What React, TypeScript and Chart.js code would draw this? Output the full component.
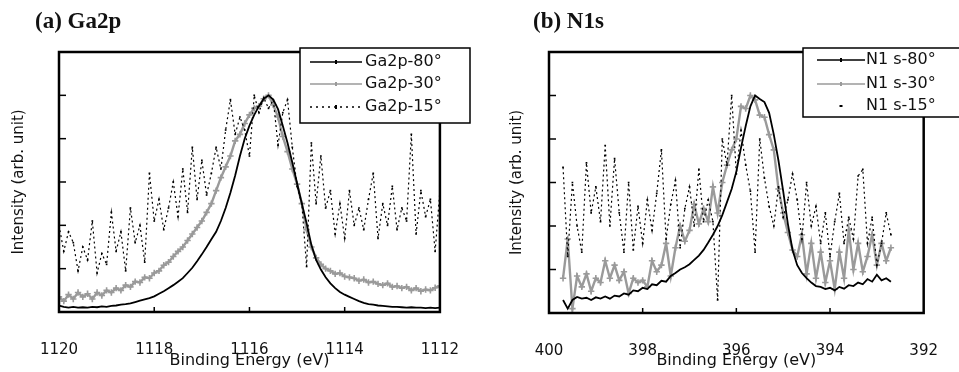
import React, { useEffect, useRef } from "react";
import { Chart, registerables } from "chart.js";

Chart.register(...registerables);

// ---------- Data: (a) Ga2p ----------
const gaEnergy = [
  1120.0, 1119.9, 1119.8, 1119.7, 1119.6, 1119.5, 1119.4, 1119.3, 1119.2, 1119.1,
  1119.0, 1118.9, 1118.8, 1118.7, 1118.6, 1118.5, 1118.4, 1118.3, 1118.2, 1118.1,
  1118.0, 1117.9, 1117.8, 1117.7, 1117.6, 1117.5, 1117.4, 1117.3, 1117.2, 1117.1,
  1117.0, 1116.9, 1116.8, 1116.7, 1116.6, 1116.5, 1116.4, 1116.3, 1116.2, 1116.1,
  1116.0, 1115.9, 1115.8, 1115.7, 1115.6, 1115.5, 1115.4, 1115.3, 1115.2, 1115.1,
  1115.0, 1114.9, 1114.8, 1114.7, 1114.6, 1114.5, 1114.4, 1114.3, 1114.2, 1114.1,
  1114.0, 1113.9, 1113.8, 1113.7, 1113.6, 1113.5, 1113.4, 1113.3, 1113.2, 1113.1,
  1113.0, 1112.9, 1112.8, 1112.7, 1112.6, 1112.5, 1112.4, 1112.3, 1112.2, 1112.1,
  1112.0,
];
const ga80 = [
  0.15, 0.12, 0.10, 0.12, 0.10, 0.11, 0.10, 0.12, 0.11, 0.13,
  0.12, 0.14, 0.15, 0.17, 0.18, 0.20, 0.23, 0.26, 0.29, 0.32,
  0.36, 0.42, 0.48, 0.55, 0.62, 0.70, 0.78, 0.90, 1.02, 1.17,
  1.33, 1.50, 1.68, 1.85, 2.10, 2.40, 2.75, 3.15, 3.60, 4.00,
  4.30, 4.55, 4.75, 4.92, 5.00, 4.90, 4.68, 4.30, 3.90, 3.45,
  2.97, 2.50, 2.05, 1.55, 1.20, 0.98, 0.80, 0.66, 0.55, 0.46,
  0.40, 0.35, 0.30, 0.25, 0.21, 0.18, 0.17, 0.15, 0.14, 0.13,
  0.12, 0.12, 0.11, 0.10, 0.11, 0.10, 0.10, 0.09, 0.10, 0.09,
  0.10,
];
const ga30 = [
  0.35, 0.25, 0.40, 0.30, 0.45, 0.35, 0.42, 0.30, 0.45, 0.38,
  0.50, 0.45, 0.55, 0.50, 0.62, 0.58, 0.70, 0.68, 0.80, 0.78,
  0.90, 0.95, 1.08, 1.15, 1.28, 1.40, 1.50, 1.65, 1.80, 1.95,
  2.10, 2.30, 2.50, 2.80, 3.10, 3.35, 3.60, 3.95, 4.10, 4.35,
  4.55, 4.70, 4.75, 4.92, 5.00, 4.78, 4.50, 4.05, 3.70, 3.30,
  2.95, 2.50, 1.90, 1.50, 1.25, 1.10, 1.00, 0.95, 0.88, 0.90,
  0.82, 0.80, 0.78, 0.72, 0.75, 0.68, 0.70, 0.65, 0.62, 0.66,
  0.58, 0.60, 0.55, 0.58, 0.50, 0.55, 0.48, 0.52, 0.50, 0.56,
  0.60,
];
const ga15 = [
  2.00, 1.40, 1.85, 1.60, 0.95, 1.50, 1.20, 2.10, 0.90, 1.35,
  1.10, 2.30, 1.40, 1.85, 0.95, 2.40, 1.60, 2.00, 1.15, 3.20,
  2.10, 2.60, 1.90, 2.40, 3.00, 2.20, 3.30, 2.30, 3.80, 2.60,
  3.50, 2.70, 3.20, 3.80, 3.30, 4.20, 4.90, 4.10, 4.50, 4.20,
  3.60, 5.00, 4.60, 4.95, 4.70, 4.90, 3.85, 4.60, 4.90, 3.80,
  2.90, 2.50, 1.05, 3.90, 2.50, 3.60, 2.40, 2.80, 1.80, 2.50,
  1.70, 2.80, 2.00, 2.40, 1.90, 2.60, 3.20, 1.70, 2.50, 2.00,
  2.90, 1.90, 2.40, 2.10, 4.10, 1.80, 2.80, 2.20, 2.60, 1.40,
  2.80,
];
const gaLabels = ["Ga2p-80°", "Ga2p-30°", "Ga2p-15°"];

// ---------- Data: (b) N1s ----------
const nEnergy = [
  399.7, 399.6, 399.5, 399.4, 399.3, 399.2, 399.1, 399.0, 398.9, 398.8,
  398.7, 398.6, 398.5, 398.4, 398.3, 398.2, 398.1, 398.0, 397.9, 397.8,
  397.7, 397.6, 397.5, 397.4, 397.3, 397.2, 397.1, 397.0, 396.9, 396.8,
  396.7, 396.6, 396.5, 396.4, 396.3, 396.2, 396.1, 396.0, 395.9, 395.8,
  395.7, 395.6, 395.5, 395.4, 395.3, 395.2, 395.1, 395.0, 394.9, 394.8,
  394.7, 394.6, 394.5, 394.4, 394.3, 394.2, 394.1, 394.0, 393.9, 393.8,
  393.7, 393.6, 393.5, 393.4, 393.3, 393.2, 393.1, 393.0, 392.9, 392.8,
  392.7,
];
const n80 = [
  0.30, 0.10, 0.30, 0.37, 0.33, 0.35, 0.30, 0.36, 0.33, 0.38,
  0.33, 0.40, 0.38, 0.45, 0.42, 0.52, 0.50, 0.58, 0.55, 0.66,
  0.64, 0.74, 0.72, 0.85, 0.92, 1.00, 1.05, 1.12, 1.22, 1.32,
  1.45, 1.62, 1.80, 2.00, 2.25, 2.55, 2.85, 3.25, 3.80, 4.30,
  4.75, 5.00, 4.92, 4.85, 4.60, 4.10, 3.50, 2.80, 2.05, 1.45,
  1.10, 0.92, 0.80, 0.70, 0.62, 0.60, 0.55, 0.58, 0.52, 0.60,
  0.56, 0.64, 0.62, 0.70, 0.66, 0.78, 0.72, 0.88, 0.75, 0.80,
  0.72,
];
const n30 = [
  0.80, 1.70, 0.10, 0.85, 0.60, 0.90, 0.50, 0.80, 0.70, 1.20,
  0.80, 1.10, 0.75, 0.95, 0.45, 0.80, 0.70, 0.75, 0.60, 1.20,
  0.95, 1.10, 1.60, 0.85, 1.50, 2.00, 1.65, 1.90, 2.50, 2.05,
  2.40, 2.10, 2.90, 2.30, 3.00, 3.40, 3.75, 4.00, 4.75, 4.70,
  5.00, 4.90, 4.55, 4.50, 4.10, 3.75, 2.85, 2.30, 1.85, 1.45,
  1.30, 1.80, 0.90, 1.60, 0.80, 1.40, 0.70, 1.20, 0.55, 1.40,
  0.80, 1.90, 1.00, 1.60, 0.95, 1.30, 1.80, 1.10, 1.60, 1.20,
  1.50,
];
const n15 = [
  3.35, 1.30, 3.00, 2.00, 1.40, 3.45, 2.30, 2.90, 2.10, 3.85,
  2.00, 3.55, 2.30, 1.40, 3.00, 1.45, 2.45, 1.60, 2.60, 1.90,
  2.75, 3.75, 1.70, 2.50, 3.05, 1.50, 2.40, 2.90, 2.00, 3.30,
  2.10, 2.60, 2.10, 0.30, 4.00, 3.40, 5.00, 3.20, 4.20, 3.40,
  2.80, 1.40, 4.00, 3.10, 2.45, 2.00, 2.90, 2.20, 2.60, 3.20,
  2.60, 1.70, 3.00, 2.00, 2.45, 1.60, 2.30, 1.30, 2.10, 2.75,
  1.60, 2.20, 1.70, 3.15, 3.30, 1.60, 2.20, 1.10, 1.60, 2.30,
  1.80,
];
const nLabels = ["N1 s-80°", "N1 s-30°", "N1 s-15°"];

const BLACK = "#000000";
const GRAY = "#9a9a9a";
const TEXT = "#111111";
const SANS = "'DejaVu Sans', sans-serif";

// Frame, inward ticks and boxed legend
const xpsDecor = {
  id: "xpsDecor",
  afterDatasetsDraw(chart: any, _args: any, opts: any) {
    const { ctx, chartArea: a, scales } = chart;
    ctx.save();
    ctx.setLineDash([]);
    ctx.strokeStyle = BLACK;
    ctx.lineWidth = 1.5;
    scales.y.ticks.forEach((t: any) => {
      if (t.value <= scales.y.min || t.value >= scales.y.max) return;
      const py = scales.y.getPixelForValue(t.value);
      ctx.beginPath();
      ctx.moveTo(a.left, py);
      ctx.lineTo(a.left + 7, py);
      ctx.stroke();
    });
    scales.x.ticks.forEach((t: any) => {
      if (t.value <= scales.x.min || t.value >= scales.x.max) return;
      const px = scales.x.getPixelForValue(t.value);
      ctx.beginPath();
      ctx.moveTo(px, a.bottom);
      ctx.lineTo(px, a.bottom - 5);
      ctx.stroke();
    });
    ctx.lineWidth = 2.5;
    ctx.strokeRect(a.left, a.top, a.right - a.left, a.bottom - a.top);

    const L = opts.legend;
    ctx.fillStyle = "#ffffff";
    ctx.fillRect(L.x, L.y, L.w, L.h);
    ctx.lineWidth = 1.5;
    ctx.strokeStyle = BLACK;
    ctx.strokeRect(L.x, L.y, L.w, L.h);
    ctx.font = "16px " + SANS;
    ctx.textBaseline = "middle";
    ctx.textAlign = "left";
    chart.data.datasets.forEach((ds: any, i: number) => {
      const y = L.rows[i];
      const kind = L.kinds[i];
      const mid = (L.sx0 + L.sx1) / 2;
      if (kind === "dot") {
        ctx.fillStyle = BLACK;
        ctx.fillRect(mid - 1.5, y - 1, 3, 2);
      } else {
        ctx.strokeStyle = ds.borderColor;
        ctx.lineWidth = kind === "dash" ? 1.4 : 1.6;
        ctx.setLineDash(kind === "dash" ? [2, 4] : []);
        ctx.beginPath();
        ctx.moveTo(L.sx0, y);
        ctx.lineTo(L.sx1, y);
        ctx.stroke();
        ctx.setLineDash([]);
        ctx.fillStyle = ds.borderColor;
        ctx.fillRect(mid - 1, y - 2, 2, 4);
      }
      ctx.fillStyle = TEXT;
      ctx.fillText(ds.label, L.tx, y);
    });
    ctx.restore();
  },
};

function buildChart(canvas: HTMLCanvasElement, p: any) {
  const styles: any[] = [
    { borderColor: BLACK, borderWidth: 1.8, pointRadius: 0, order: 0 },
    {
      borderColor: GRAY, borderWidth: 2.4, pointStyle: "cross", pointRadius: 3.2,
      pointBorderWidth: 1.6, pointBorderColor: GRAY, order: 2,
    },
    {
      borderColor: BLACK, borderWidth: 1.2, borderDash: [2, 3], pointStyle: "rect",
      pointRadius: 1.2, pointBackgroundColor: BLACK, pointBorderColor: BLACK,
      pointBorderWidth: 0, order: 1,
    },
  ];
  const datasets = p.series.map((vals: number[], i: number) => ({
    label: p.labels[i],
    data: p.energy.map((x: number, j: number) => ({ x, y: vals[j] })),
    tension: 0,
    fill: false,
    ...styles[i],
  }));
  return new Chart(canvas, {
    type: "line",
    data: { datasets },
    options: {
      animation: false,
      responsive: false,
      maintainAspectRatio: false,
      events: [],
      layout: { padding: { left: 0, top: 52, right: p.padRight, bottom: 0 } },
      plugins: {
        legend: { display: false },
        tooltip: { enabled: false },
        xpsDecor: { legend: p.legend },
      } as any,
      scales: {
        x: {
          type: "linear",
          min: p.xMin,
          max: p.xMax,
          reverse: true,
          grid: { display: false },
          border: { display: false },
          ticks: {
            stepSize: 2,
            autoSkip: false,
            maxRotation: 0,
            color: TEXT,
            padding: 21,
            font: { family: SANS, size: 15 },
            callback: (v: any) => String(v),
          },
          title: {
            display: true,
            text: "Binding Energy (eV)",
            color: TEXT,
            font: { family: SANS, size: 16 },
            padding: { top: 0, bottom: 2 },
          },
          afterFit: (s: any) => { s.height = p.xHeight; },
        },
        y: {
          min: 0,
          max: 6,
          grid: { display: false },
          border: { display: false },
          ticks: { display: false, stepSize: 1 },
          title: {
            display: true,
            text: "Intensity (arb. unit)",
            color: TEXT,
            font: { family: SANS, size: 15 },
            padding: { top: p.yTitlePad, bottom: 0 },
          },
          afterFit: (s: any) => { s.width = p.yWidth; },
        },
      },
    } as any,
    plugins: [xpsDecor],
  });
}

export default function App() {
  const refA = useRef<HTMLCanvasElement>(null);
  const refB = useRef<HTMLCanvasElement>(null);

  useEffect(() => {
    document.body.style.margin = "0";
    const a = buildChart(refA.current!, {
      energy: gaEnergy,
      series: [ga80, ga30, ga15],
      labels: gaLabels,
      xMin: 1112,
      xMax: 1120,
      padRight: 37,
      xHeight: 60,
      yWidth: 59,
      yTitlePad: 10,
      legend: { x: 300, y: 48, w: 170, h: 75, sx0: 310, sx1: 362, tx: 365, rows: [62, 84, 107], kinds: ["line", "line", "dash"] },
    });
    const b = buildChart(refB.current!, {
      energy: nEnergy,
      series: [n80, n30, n15],
      labels: nLabels,
      xMin: 392,
      xMax: 400,
      padRight: 17,
      xHeight: 59,
      yWidth: 69,
      yTitlePad: 28,
      legend: { x: 323, y: 48, w: 170, h: 69, sx0: 337, sx1: 385, tx: 386, rows: [60, 84, 106], kinds: ["line", "line", "dot"] },
    });
    return () => {
      a.destroy();
      b.destroy();
    };
  }, []);

  const titleStyle: React.CSSProperties = {
    position: "absolute",
    top: 9,
    fontFamily: "'Liberation Serif', 'Times New Roman', serif",
    fontWeight: "bold",
    fontSize: 23,
    lineHeight: "23px",
    color: "#111",
    whiteSpace: "nowrap",
  };

  return (
    <div style={{ position: "relative", width: 959, height: 372, background: "#fff", overflow: "hidden" }}>
      <canvas ref={refA} width={480} height={372} style={{ position: "absolute", left: 0, top: 0, width: 480, height: 372 }} />
      <canvas ref={refB} width={479} height={372} style={{ position: "absolute", left: 480, top: 0, width: 479, height: 372 }} />
      <div style={{ ...titleStyle, left: 35 }}>(a) Ga2p</div>
      <div style={{ ...titleStyle, left: 533 }}>(b) N1s</div>
    </div>
  );
}
